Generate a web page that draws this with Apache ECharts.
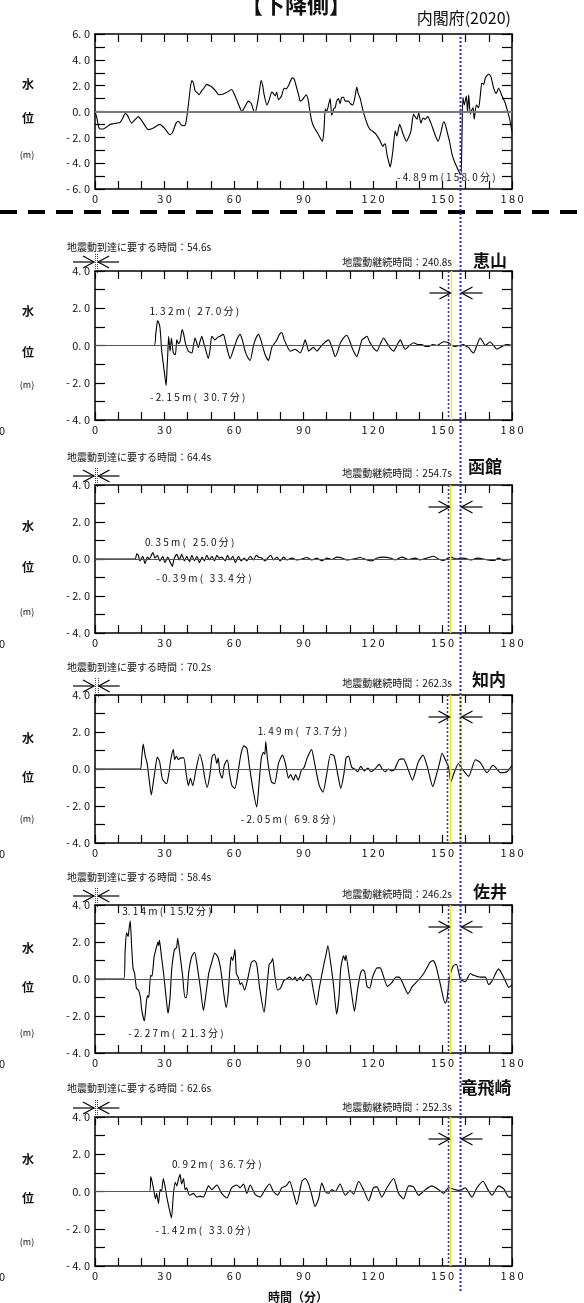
<!DOCTYPE html>
<html>
<head>
<meta charset="utf-8">
<script src="https://cdn.jsdelivr.net/npm/echarts@6/dist/echarts.min.js"></script>
<style>
  html, body { margin: 0; padding: 0; background: #fff; }
  #chart { width: 584px; height: 1303px; }
</style>
</head>
<body>
<div id="chart"></div>
<script>
// ---------------- data ----------------
// Offshore water level (内閣府 2020 model), [minute, metre]
const offshoreLevel = [[0,0],[0.8,-0.5],[1.6,-1.2],[2.2,-1.35],[3.6,-1.35],[5,-1.2],[6.5,-1.0],[8,-0.95],[9.4,-0.9],[10.8,-0.85],[12,-0.5],[13,-0.15],[14,-0.3],[15.8,-0.9],[17.2,-0.65],[18.7,-0.4],[20.5,-0.8],[23,-1.4],[25,-1.3],[28,-1.0],[30,-1.3],[32.4,-1.8],[33.5,-1.6],[35,-0.9],[36,-0.75],[37.3,-1.05],[38.6,-1.1],[39.3,-0.8],[40.3,0.5],[41.2,1.9],[41.8,2.4],[42.5,2.2],[43.2,1.6],[44.2,1.45],[44.9,1.3],[46,1.6],[47,1.8],[48.2,2.1],[50,1.95],[51,1.8],[52.5,1.5],[53.3,1.3],[55.4,1.35],[57,1.5],[59,1.7],[60,1.4],[61.2,0.9],[62.3,0.4],[63.4,0.0],[64.5,0.3],[66.2,0.8],[67.5,0.6],[68.4,0.1],[69.1,-0.1],[70.2,0.7],[70.9,1.5],[71.7,2.4],[72.4,2.0],[72.9,1.4],[74.2,0.5],[75.2,0.9],[76.3,1.5],[77,1.4],[77.8,1.2],[78.4,1.5],[79.2,0.9],[80.5,1.2],[81.6,1.8],[82.5,1.75],[83.5,2.0],[85.2,2.6],[86,2.5],[87.1,1.8],[88,1.2],[88.6,0.8],[89.5,0.9],[90.3,1.1],[91.2,1.3],[92,0.9],[92.6,0.2],[93.5,-0.7],[94.5,-1.2],[95.5,-1.5],[96.5,-1.8],[97.5,-2.15],[98.2,-2.3],[98.8,-1.5],[99.4,0.2],[100,0.0],[100.8,0.5],[101.5,1.0],[102.2,-0.3],[103,0.2],[103.7,0.3],[104.3,0.8],[105.1,1.0],[105.8,0.6],[106.5,1.1],[107.3,1.1],[108,0.8],[109.4,0.8],[110.3,0.6],[111.3,0.5],[112.3,1.2],[113,1.9],[113.6,1.4],[114.5,1.0],[115.5,0.2],[116.6,-0.5],[117.8,-1.1],[118.8,-1.4],[120,-1.55],[121,-1.7],[122.2,-2.0],[123.1,-2.3],[124.3,-2.7],[124.8,-2.55],[125.3,-2.5],[126,-3.3],[126.8,-3.9],[127.4,-4.3],[128,-3.8],[128.6,-3.0],[129.6,-1.5],[130.3,-1.9],[131.5,-1.0],[132.2,-1.3],[132.9,-1.7],[134.4,-2.3],[135.4,-2.0],[136.4,-1.5],[137.5,-0.2],[138.2,-0.4],[139,-0.6],[139.7,-0.1],[140.7,-0.9],[141.6,-0.5],[142.5,-0.6],[143.6,-0.4],[145,-0.9],[146.2,-1.5],[147.2,-2.0],[148.1,-2.3],[149.2,-1.7],[150.5,-0.8],[151.2,-1.0],[151.9,-1.5],[153,-2.3],[154.1,-3.3],[155.2,-3.9],[156.2,-4.3],[157.2,-4.7],[158.0,-4.89],[158.4,-2.0],[158.8,1.1],[159.4,0.5],[160.3,1.2],[160.8,-0.1],[161.3,1.3],[162,-0.2],[162.6,0.1],[163.2,0.3],[163.7,-0.6],[164.6,0.5],[165.6,0.3],[166.3,1.2],[167,2.2],[167.8,2.1],[168.5,2.6],[169.9,2.9],[170.9,2.7],[172.1,1.8],[173.2,1.4],[174.2,1.8],[175.7,1.2],[177,0.7],[177.8,0.2],[179,-0.6],[180,-1.6]];
const offshoreMin = [158.0, -4.89];

// Coastal water level per station, [minute, metre]
const esan = [[0,0],[25.5,0],[26.2,0.6],[26.6,1.0],[27.0,1.32],[27.6,1.2],[28.1,0.9],[28.8,-0.3],[29.5,-1.0],[30.1,-1.6],[30.7,-2.15],[31.1,-1.2],[31.4,-0.5],[31.8,0.5],[32.4,-0.3],[33,0.4],[33.8,-0.4],[34.7,-0.5],[35.3,0.3],[36,0.1],[36.7,0.2],[37.6,0.85],[38.3,0.6],[38.9,0.2],[39.6,-0.1],[40.3,-0.3],[41.8,-0.4],[42.5,0.0],[43.2,0.4],[44.6,-0.1],[45.3,0.2],[46.1,0.5],[46.8,0.2],[47.5,-0.1],[48.9,-0.7],[49.7,-0.2],[50.4,0.5],[51.8,0.3],[53,0.45],[54,0.5],[55.4,0.6],[56.5,0.1],[57.5,-0.4],[58.3,-0.7],[59.8,-0.2],[61.2,0.3],[62.6,0.6],[63.6,0.3],[64.8,-0.3],[65.8,-0.6],[67,-0.8],[68.4,0.0],[69.5,0.4],[70.6,0.6],[71.6,0.3],[72.7,-0.2],[73.8,-0.6],[74.9,-0.8],[76.3,-0.1],[77.4,0.1],[78.5,0.3],[79.6,0.6],[80.6,0.7],[81.7,0.3],[82.8,0.0],[84.2,-0.3],[85.3,-0.25],[86.4,-0.2],[87.5,-0.3],[88.6,-0.4],[89.7,-0.1],[90.7,0.3],[91.5,0.0],[92.2,-0.3],[93.2,-0.2],[94.3,-0.1],[95.8,-0.3],[97.2,-0.1],[98.6,0.1],[100.8,0.3],[102.3,-0.1],[103.7,-0.6],[104.8,-0.3],[105.8,0.1],[107.2,0.4],[108.7,0.55],[109.8,0.3],[110.9,-0.1],[112,-0.4],[113,-0.6],[114.1,-0.2],[115.2,0.3],[116.3,0.4],[117.4,0.5],[118.5,0.2],[119.5,0.0],[120.6,-0.2],[121.7,-0.3],[123.2,0.1],[124.6,0.4],[125.7,0.2],[126.7,0.0],[127.8,-0.2],[128.9,-0.3],[130.3,0.0],[131.8,0.3],[132.9,0.0],[133.9,-0.2],[135.7,0.0],[137.5,0.15],[139.3,0.05],[141.1,0.05],[142.6,-0.05],[144,-0.05],[145.8,0.05],[147.6,0.0],[149,0.1],[150.5,0.2],[152.6,0.15],[154,0.0],[155.5,-0.05],[157.3,0.0],[159.1,0.05],[160.2,-0.05],[161.3,-0.1],[162.4,-0.3],[163.4,-0.4],[164.8,0.0],[166.3,0.4],[167.4,0.2],[168.5,0.0],[169.5,0.1],[170.6,0.2],[172,0.0],[173.5,-0.2],[175,-0.1],[176.4,0.0],[178,0.05],[180,0.0]];
const hakodate = [[0,0],[17.3,0],[18,0.28],[18.7,0.2],[19.4,-0.1],[20.6,0.15],[21.6,-0.25],[22.6,0.1],[23.5,0.0],[24.5,0.25],[25.0,0.35],[25.9,0.05],[26.9,0.2],[28,-0.1],[29.2,0.15],[30.2,-0.2],[31.4,0.1],[32.4,-0.15],[33.4,-0.39],[34.1,0.0],[35.3,0.25],[36.4,-0.05],[37.4,0.25],[38.6,-0.1],[39.6,0.15],[40.8,-0.15],[41.8,0.2],[42.9,-0.1],[44,0.15],[45.1,-0.2],[46.2,0.1],[47.2,-0.1],[48.2,0.2],[49.4,-0.05],[50.5,0.15],[51.6,-0.1],[52.6,0.2],[53.6,0.05],[54.7,0.1],[56.2,-0.1],[57.2,0.2],[58.3,-0.05],[59.5,0.15],[60.6,-0.2],[61.9,0.15],[63.1,-0.1],[64.4,0.05],[65.5,-0.1],[67,0.15],[68.4,-0.05],[69.6,0.2],[70.6,0.1],[72,0.05],[73.4,-0.1],[74.9,0.1],[75.9,0.2],[77,-0.05],[78.5,0.1],[79.9,-0.1],[81.4,0.1],[82.8,-0.05],[85,0.05],[87.1,-0.05],[89.3,0.0],[91.4,0.08],[93.6,-0.05],[95.8,0.05],[97.9,-0.1],[100.1,0.05],[102.2,-0.03],[104.4,0.1],[106.6,0.05],[108.7,-0.05],[111.6,0.0],[114.5,0.08],[117.4,-0.05],[119.5,-0.1],[121.7,0.05],[124.6,0.1],[127.4,0.05],[129.6,-0.05],[132.5,0.1],[135.4,-0.03],[138.2,0.05],[140.4,-0.05],[143.3,0.05],[146.2,0.15],[148.3,0.0],[150.5,-0.08],[153.4,0.1],[156.2,0.0],[159.1,0.05],[162.3,-0.05],[165.2,0.05],[169.6,-0.05],[172.4,-0.08],[174.2,0.05],[176.4,-0.08],[180,0.0]];
const shiriuchi = [[0,0],[19.5,0],[20.1,0.5],[20.8,1.35],[21.7,0.7],[22.5,0.3],[23.4,-0.6],[24.3,-1.4],[25.3,-0.6],[26,0.0],[26.9,0.65],[27.9,0.4],[29,-0.5],[29.9,-0.7],[30.9,-0.8],[31.8,-0.3],[32.7,0.5],[33.8,1.05],[34.4,0.5],[35.1,0.7],[36,0.5],[37,0.6],[38.3,0.6],[39.4,-0.3],[40.3,-0.9],[41.2,-0.5],[42.2,-0.9],[43.5,-0.1],[45.2,0.8],[46.4,0.3],[47.4,-0.5],[48.4,-1.0],[49.6,-0.3],[50.6,0.7],[51.6,0.8],[52.6,0.3],[53.2,0.6],[53.9,-0.2],[54.9,-0.5],[55.8,0.2],[57.1,0.5],[58.1,-0.3],[59.1,-0.9],[60.4,-1.05],[61.7,-0.2],[63,0.8],[64.3,1.25],[65.6,1.1],[66.6,0.2],[68.2,-1.1],[69.8,-2.05],[70.8,-0.8],[71.8,0.6],[72.7,0.9],[73.3,0.8],[73.7,1.49],[74.4,0.6],[75.3,-0.2],[76.2,-0.7],[77.5,-0.8],[79.2,0.3],[80.9,0.75],[82.2,0.3],[83.5,-0.5],[84.4,-0.3],[85.7,-0.6],[86.6,-0.3],[87.7,-0.6],[89,-0.1],[90.3,0.1],[91.6,0.6],[93.5,1.05],[94.8,0.3],[96.8,-0.9],[98.4,-1.25],[100,-0.3],[101.7,0.8],[103.2,0.7],[104.8,-0.3],[106.1,-1.05],[107.4,-0.3],[108.4,0.6],[109.4,0.7],[110.8,0.1],[112.1,0.0],[113.4,-0.15],[114.7,0.15],[116.2,-0.1],[117.8,0.05],[119.1,-0.15],[120.8,0.0],[122.7,0.25],[124,0.0],[125.3,-0.15],[126.6,0.0],[127.9,-0.1],[129.2,-0.05],[131.2,0.5],[133.1,0.55],[135.1,0.0],[137,-0.6],[139.6,0.4],[141.6,0.75],[143.5,0.1],[145.8,-0.95],[147.4,-0.3],[148.7,0.3],[149.8,0.85],[151.2,0.5],[152.6,0.1],[153.6,-0.7],[155,-0.2],[156.9,0.3],[158.5,0.0],[161.3,-0.4],[164.2,0.5],[166.3,0.35],[169.2,-0.2],[171.8,0.2],[173.5,0.0],[175,-0.2],[177.8,-0.15],[180,0.2]];
const sai = [[0,0],[12.4,0],[13.0,1.5],[13.6,2.5],[14.3,2.3],[14.7,2.7],[15.2,3.14],[15.8,1.8],[16.4,0.6],[17.1,0.3],[17.9,-0.5],[18.8,-0.6],[19.6,-1.0],[20.2,-1.7],[21.3,-2.27],[22.2,-1.2],[22.7,-0.9],[23.2,-1.0],[24.0,0.2],[24.6,0.15],[25.5,1.2],[26.3,1.6],[27.2,2.0],[27.5,1.8],[27.8,2.1],[28.7,1.2],[29.7,0.2],[30.7,-1.0],[31.5,-1.85],[32.4,-1.0],[33.1,0.5],[34.3,1.6],[35.2,1.7],[35.7,2.2],[36.5,1.5],[37.8,0.2],[38.8,-1.0],[39.5,-1.0],[40.4,0.3],[41.7,1.2],[43.0,1.45],[44.0,0.8],[45.5,-0.5],[46.8,-1.7],[47.8,-0.9],[49.1,0.3],[50.4,0.9],[51.7,1.4],[53,1.2],[54.3,0.5],[55.6,-0.8],[56.6,-1.55],[57.5,-0.8],[58.2,0.5],[58.8,1.2],[59.5,1.0],[60.4,1.6],[61.0,0.3],[61.8,0.1],[62.7,-0.3],[63.3,-0.2],[64.6,-0.6],[65.9,0.0],[67.5,0.9],[68.8,1.0],[69.8,0.8],[71.1,-0.5],[73.0,-1.8],[74.0,-0.7],[75.2,0.8],[76.0,0.9],[76.7,1.1],[77.5,0.3],[78.8,-0.6],[80.1,-0.5],[81.4,-0.1],[82.7,0.0],[84,0.1],[85.3,-0.05],[86.4,0.1],[87.2,-0.1],[88.6,0.1],[89.7,-0.1],[91.7,0.25],[93.2,0.1],[94.1,-0.5],[95.6,-1.4],[96.8,-0.5],[98.8,0.8],[99.7,1.3],[100.5,1.8],[101.8,0.8],[103.1,-0.5],[104.3,-1.9],[105.3,-1.0],[106.1,0.6],[107.3,1.25],[108.0,1.0],[108.3,1.3],[109.7,0.2],[111.0,-1.0],[112.0,-1.75],[113.3,-0.6],[114.6,0.3],[115.5,0.5],[116.4,0.4],[117.4,-0.4],[118.6,-0.5],[119.8,0.1],[121.8,0.6],[123.1,0.6],[124.4,0.2],[126.2,-0.4],[128.1,-0.2],[130,0.1],[131.3,0.1],[133.8,-0.5],[135.1,-0.8],[137.0,-0.4],[140,0.0],[141.9,0.3],[144.6,0.9],[145.9,1.0],[147.2,0.7],[149.1,-0.3],[151.1,-1.3],[151.8,-1.2],[153.0,0.0],[154.6,0.7],[156,0.8],[157.7,0.0],[159.8,-0.15],[162,0.3],[163.4,0.2],[166.3,0.1],[168.5,0.1],[169.9,-0.3],[171.4,-0.1],[174.2,0.55],[176.4,0.1],[178.6,-0.45],[180,-0.3]];
const tappi = [[0,0],[23.5,0],[24.1,0.8],[25.2,0.2],[26.1,-0.4],[26.6,-0.1],[27.4,-0.65],[28.1,0.1],[28.7,0.0],[29.5,0.7],[30.2,0.3],[31.0,-0.3],[32.0,-0.9],[33.0,-1.42],[33.8,-0.2],[34.6,0.5],[35.3,0.3],[36.0,0.65],[36.7,0.92],[37.4,0.4],[38.2,0.7],[38.9,0.1],[39.6,0.2],[40.3,-0.1],[41,-0.2],[42.5,-0.1],[43.9,-0.3],[45.4,-0.25],[46.8,-0.3],[49,0.3],[50.4,0.1],[52.6,0.35],[54.7,-0.1],[56.9,-0.35],[59,0.2],[61.2,0.35],[62.6,0.2],[64.1,0.4],[65.5,-0.1],[67,0.35],[69.1,-0.15],[71.3,-0.3],[73.4,0.1],[75.3,0.4],[77,0.0],[78.8,-0.2],[80.6,0.2],[82.5,0.3],[84,0.55],[85.7,-0.1],[87.1,-0.7],[89.3,0.55],[90.7,0.7],[92.2,0.4],[93.6,-0.2],[95,-0.8],[96.5,-0.4],[97.9,0.45],[99.4,0.0],[100.8,-0.1],[102.2,0.1],[103.7,0.0],[105.8,0.4],[108,-0.2],[110.2,0.05],[111.6,-0.15],[113.8,0.55],[115.9,0.1],[118.1,-0.5],[120.2,0.2],[121.7,0.25],[123.8,-0.3],[126,0.2],[128.9,0.7],[131,-0.1],[133.2,-0.4],[135.4,0.3],[137.5,0.25],[139.7,-0.2],[142.6,0.1],[145.4,0.3],[148.3,0.1],[150.5,-0.1],[152.6,0.2],[155.5,0.1],[157.4,0.05],[159.8,0.2],[162.7,-0.3],[164.9,0.2],[167.5,0.55],[169.6,0.1],[171.4,-0.2],[174.2,0.3],[176.4,0.15],[178.6,-0.3],[180,-0.3]];

const stationNames = ['恵山', '函館', '知内', '佐井', '竜飛崎'];
const stationSeries = [esan, hakodate, shiriuchi, sai, tappi];
const arrivalSec = [54.6, 64.4, 70.2, 58.4, 62.6];     // 地震動到達に要する時間
const durationSec = [240.8, 254.7, 262.3, 246.2, 252.3]; // 地震動継続時間
const stationMax = [[27.0, 1.32], [25.0, 0.35], [73.7, 1.49], [15.2, 3.14], [36.7, 0.92]];
const stationMin = [[30.7, -2.15], [33.4, -0.39], [69.8, -2.05], [21.3, -2.27], [33.0, -1.42]];
const refMinute = 157.5;   // reference time marked across all panels
const xTicks = [0, 30, 60, 90, 120, 150, 180];

// ---------------- layout / style ----------------
const FONT = '"Noto Sans CJK JP", "Noto Sans", sans-serif';
const BLUE = '#2a2ad8';
const YELLOW = '#f5f000';
const PLOT_LEFT = 95, PLOT_W = 417;
const panels = [
  { top: 34, height: 155, yMax: 6 },
  { top: 271, height: 149, yMax: 4 },
  { top: 485, height: 148, yMax: 4 },
  { top: 695, height: 148, yMax: 4 },
  { top: 905, height: 148, yMax: 4 },
  { top: 1117, height: 149, yMax: 4 }
];
// per-panel text rows
const arrivalTextY = [247, 457, 667, 877, 1088];
const durationTextY = [262, 473, 683, 894, 1107];
const nameLayout = [[490, 261], [485, 467], [489, 680], [490, 892], [486, 1088]];
const sideLabelY = [[84, 118, 155], [311, 352, 385], [526, 567, 612], [738, 777, 819], [948, 987, 1033], [1159, 1198, 1242]];

// spread characters out like a fixed-pitch plotter font
function spaced(s) {
  return Array.from(s).join(' ').replace(/ \./g, '.');
}
function fmtPeak(p) {
  return spaced(p[1].toFixed(2) + 'm(' + p[0].toFixed(1).padStart(5, ' ') + '分)');
}

const chart = echarts.init(document.getElementById('chart'), null, { renderer: 'canvas' });

const grids = [], xAxes = [], yAxes = [], series = [];
const lineBlack = { color: '#000', width: 1.5 };
panels.forEach((p, i) => {
  grids.push({ left: PLOT_LEFT, top: p.top, width: PLOT_W, height: p.height, containLabel: false });
  const xBase = {
    gridIndex: i, type: 'value', min: 0, max: 180, interval: 10,
    axisLine: { show: true, onZero: false, lineStyle: lineBlack },
    axisTick: { show: true, inside: true, length: 8, lineStyle: { color: '#000', width: 1.2 } },
    splitLine: { show: false }
  };
  xAxes.push(Object.assign({}, xBase, {
    position: 'bottom',
    axisLabel: {
      show: true, margin: 4, fontSize: 11, color: '#111', fontFamily: FONT,
      formatter: v => xTicks.includes(v) ? spaced(String(v)) : ''
    }
  }));
  xAxes.push(Object.assign({}, xBase, { position: 'top', axisLabel: { show: false } }));
  const yBase = {
    gridIndex: i, type: 'value', min: -p.yMax, max: p.yMax, interval: 1,
    axisLine: { show: true, onZero: false, lineStyle: lineBlack },
    axisTick: { show: true, inside: true, length: 10, lineStyle: { color: '#000', width: 1.2 } },
    splitLine: { show: false }
  };
  yAxes.push(Object.assign({}, yBase, {
    position: 'left',
    axisLabel: {
      show: true, margin: 5, fontSize: 11, color: '#111', fontFamily: FONT,
      formatter: v => (Math.round(v) % 2 === 0) ? spaced((v === 0 ? 0 : v).toFixed(1)) : ''
    }
  }));
  yAxes.push(Object.assign({}, yBase, { position: 'right', axisLabel: { show: false } }));
});

[offshoreLevel].concat(stationSeries).forEach((data, i) => {
  series.push({
    type: 'line', xAxisIndex: 2 * i, yAxisIndex: 2 * i,
    data: data, showSymbol: false, symbol: 'none', smooth: 0.2,
    lineStyle: { color: '#000', width: 1.1 },
    animation: false, silent: true,
    markLine: {
      silent: true, symbol: ['none', 'none'], label: { show: false }, animation: false,
      data: [{ yAxis: 0, lineStyle: { color: i === 0 ? '#7a7a7a' : '#555', width: i === 0 ? 2 : 1.2, type: 'solid' } }]
    }
  });
});

chart.setOption({
  backgroundColor: '#fff',
  animation: false,
  grid: grids, xAxis: xAxes, yAxis: yAxes, series: series
});

// ---------------- annotations drawn on top ----------------
function text(x, y, s, opt) {
  return {
    type: 'text', x: x, y: y, z: 120, silent: true,
    style: Object.assign({
      text: s, fill: '#111', fontFamily: FONT, fontSize: 10,
      align: 'left', verticalAlign: 'middle', textAlign: 'left', textVerticalAlign: 'middle'
    }, opt || {})
  };
}
function seg(x1, y1, x2, y2, style, z) {
  return { type: 'line', z: z || 110, silent: true, shape: { x1, y1, x2, y2 },
    style: Object.assign({ stroke: '#000', lineWidth: 1.2 }, style || {}) };
}
function arrow(tipX, y, dir) {
  // dir = +1 points right, -1 points left
  return [seg(tipX - dir * 21, y, tipX, y), {
    type: 'polyline', z: 110, silent: true,
    shape: { points: [[tipX - dir * 11, y - 6], [tipX, y], [tipX - dir * 11, y + 6]] },
    style: { stroke: '#000', fill: null, lineWidth: 1.2 }
  }];
}
const px = (si, t, v) => chart.convertToPixel({ seriesIndex: si }, [t, v]);
const snap = x => Math.round(x) + 0.5;

const g = [];
// page headings
g.push(text(296, 5, '【下降側】', { fontSize: 22, fontWeight: 'bold', align: 'center', textAlign: 'center' }));
g.push(text(511, 18, '内閣府(2020)', { fontSize: 16, align: 'right', textAlign: 'right' }));
// separator between offshore and coastal panels
g.push(seg(0, 212, 584, 212, { lineWidth: 4, lineDash: [17, 11] }));
// reference time across all panels
const refX = snap(px(0, refMinute, 0)[0]);
g.push(seg(refX, 33, refX, 1291, { stroke: BLUE, lineWidth: 2, lineDash: [2, 2] }, 115));

// y-axis captions
sideLabelY.forEach(r => {
  g.push(text(28, r[0], '水', { fontSize: 12, fontWeight: 'bold', align: 'center', textAlign: 'center' }));
  g.push(text(28, r[1], '位', { fontSize: 12, fontWeight: 'bold', align: 'center', textAlign: 'center' }));
  g.push(text(27, r[2], '(m)', { fontSize: 9, align: 'center', textAlign: 'center' }));
});
g.push(text(298, 1297, '時間（分）', { fontSize: 12, fontWeight: 'bold', align: 'center', textAlign: 'center' }));

// offshore minimum
const om = px(0, offshoreMin[0], offshoreMin[1]);
g.push(text(om[0] - 64, om[1] + 3, fmtPeak(offshoreMin)));

stationNames.forEach((name, k) => {
  const si = k + 1;
  const p = panels[si];
  const bottom = p.top + p.height;
  // partial neighbour axis label at the left edge
  g.push(text(5, bottom + 11, spaced('180'), { fontSize: 11, align: 'right', textAlign: 'right' }));
  // texts above the panel
  g.push(text(67, arrivalTextY[k], '地震動到達に要する時間：' + arrivalSec[k].toFixed(1) + 's'));
  g.push(text(452, durationTextY[k], '地震動継続時間：' + durationSec[k].toFixed(1) + 's', { align: 'right', textAlign: 'right' }));
  g.push(text(nameLayout[k][0], nameLayout[k][1], name, { fontSize: 17, fontWeight: 'bold', align: 'center', textAlign: 'center' }));

  // shaking window: yellow = end of shaking, blue = shaking start shifted by arrival
  const yellowX = snap(px(si, refMinute - durationSec[k] / 60, 0)[0]);
  const blueX = snap(px(si, refMinute - (durationSec[k] + arrivalSec[k]) / 60, 0)[0]);
  g.push(seg(yellowX, p.top, yellowX, bottom, { stroke: YELLOW, lineWidth: 1.5 }, 100));
  if (k === 2) g.push(seg(refX, p.top, refX, bottom, { stroke: YELLOW, lineWidth: 1.5 }, 100));
  g.push(seg(blueX, p.top, blueX, bottom, { stroke: BLUE, lineWidth: 1.5, lineDash: [2, 2] }, 105));

  // arrival interval marker (0 → arrival)
  const x0 = px(si, 0, 0)[0];
  const xa = px(si, arrivalSec[k] / 60, 0)[0];
  const ay = p.top - 9;
  g.push(seg(snap(x0), ay - 8, snap(x0), p.top + 3, { stroke: '#444', lineWidth: 1, lineDash: [1, 1] }));
  g.push(seg(snap(xa), ay - 8, snap(xa), p.top + 3, { stroke: '#444', lineWidth: 1, lineDash: [1, 1] }));
  g.push(...arrow(x0 - 1, ay, 1));
  g.push(...arrow(xa + 1, ay, -1));
  // shaking duration marker
  const ry = p.top + 22;
  g.push(...arrow(yellowX - 1, ry, 1));
  g.push(...arrow(refX + 1, ry, -1));
  // peak annotations
  const mx = px(si, stationMax[k][0], stationMax[k][1]);
  const mn = px(si, stationMin[k][0], stationMin[k][1]);
  g.push(text(mx[0] - 8, mx[1] - 10, fmtPeak(stationMax[k])));
  g.push(text(mn[0] - 16, mn[1] + 12, fmtPeak(stationMin[k])));
});

chart.setOption({ graphic: { elements: g } });
</script>
</body>
</html>
